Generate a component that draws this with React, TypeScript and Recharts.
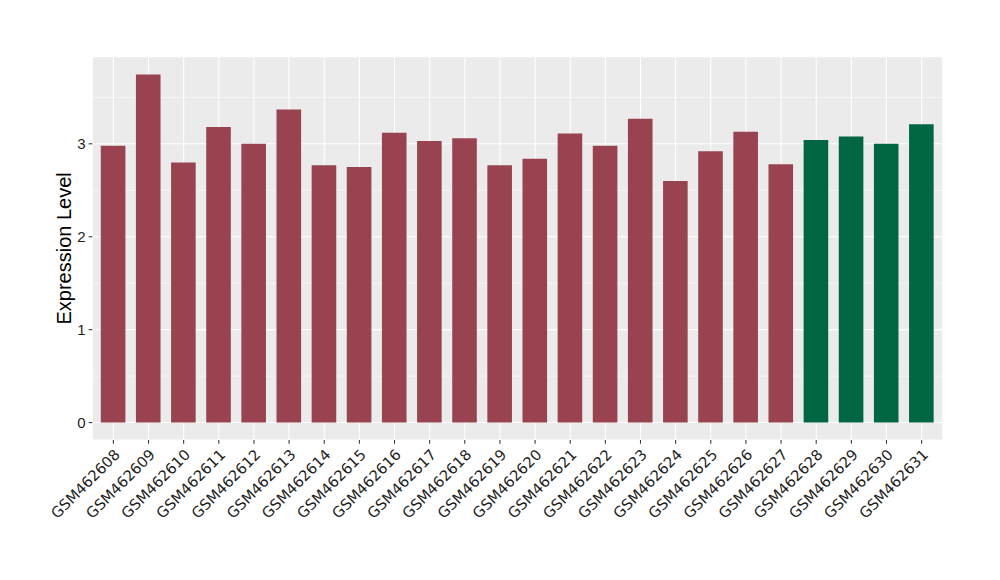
import React from "react";
import { BarChart, Bar, XAxis, YAxis, CartesianGrid, Cell } from "recharts";

const samples = [
  "GSM462608", "GSM462609", "GSM462610", "GSM462611", "GSM462612", "GSM462613",
  "GSM462614", "GSM462615", "GSM462616", "GSM462617", "GSM462618", "GSM462619",
  "GSM462620", "GSM462621", "GSM462622", "GSM462623", "GSM462624", "GSM462625",
  "GSM462626", "GSM462627", "GSM462628", "GSM462629", "GSM462630", "GSM462631",
];
const values = [
  2.98, 3.745, 2.8, 3.18, 3.0, 3.37, 2.77, 2.75, 3.12, 3.03, 3.06, 2.77,
  2.84, 3.11, 2.98, 3.27, 2.6, 2.92, 3.13, 2.78, 3.04, 3.08, 3.0, 3.21,
];
const groups = [
  "A", "A", "A", "A", "A", "A", "A", "A", "A", "A", "A", "A",
  "A", "A", "A", "A", "A", "A", "A", "A", "B", "B", "B", "B",
];
const groupColors: Record<string, string> = { A: "#994350", B: "#006742" };
const yTicks = [0, 1, 2, 3];
const yMinor = [0.5, 1.5, 2.5, 3.5];
const yDomain = [-0.1875, 3.9375];

const data = samples.map((s, i) => ({ name: s, value: values[i], group: groups[i] }));

const FONT = "Liberation Sans";
const LABEL_FONT = "DejaVu Sans";
const TEXT_COLOR = "#1F1F1F";

const XTick = (props: any) => {
  const { x, y, payload } = props;
  return (
    <text
      x={x}
      y={y}
      dy="0.72em"
      textAnchor="end"
      transform={`rotate(-45, ${x}, ${y})`}
      fill={TEXT_COLOR}
      fontSize={14.8}
      fontFamily={LABEL_FONT}
    >
      {payload.value}
    </text>
  );
};

const YLabel = () => (
  <text
    x={71.5}
    y={248.35}
    textAnchor="middle"
    transform="rotate(-90, 71.5, 248.35)"
    fill="#000000"
    fontSize={20}
    fontFamily={FONT}
  >
    Expression Level
  </text>
);

export default function App() {
  return (
    <div style={{ position: "absolute", left: 0, top: 0, width: 1000, height: 580, background: "#fff" }}>
      <BarChart
        width={1000}
        height={580}
        data={data}
        margin={{ top: 56.7, right: 57.3, bottom: 0, left: 0 }}
      >
        <CartesianGrid
          fill="#EBEBEB"
          stroke="#FFFFFF"
          strokeWidth={0.53}
          vertical={false}
          horizontalValues={yMinor}
        />
        <CartesianGrid stroke="#FFFFFF" strokeWidth={1.07} />
        <XAxis
          dataKey="name"
          type="category"
          interval={0}
          height={140}
          padding={{ left: 3.5, right: 3.5 }}
          axisLine={false}
          tickLine={{ stroke: "#333333", strokeWidth: 1.07 }}
          tickSize={3.67}
          tickMargin={4.5}
          tick={<XTick />}
        />
        <YAxis
          type="number"
          domain={yDomain}
          ticks={yTicks}
          allowDataOverflow
          width={92.3}
          axisLine={false}
          tickLine={{ stroke: "#333333", strokeWidth: 1.07 }}
          tickSize={3.67}
          tickMargin={2.93}
          tick={{ fill: TEXT_COLOR, fontSize: 15, fontFamily: FONT }}
          label={<YLabel />}
        />
        <Bar dataKey="value" barSize={24.6} isAnimationActive={false}>
          {data.map((d, i) => (
            <Cell key={i} fill={groupColors[d.group]} />
          ))}
        </Bar>
      </BarChart>
    </div>
  );
}
